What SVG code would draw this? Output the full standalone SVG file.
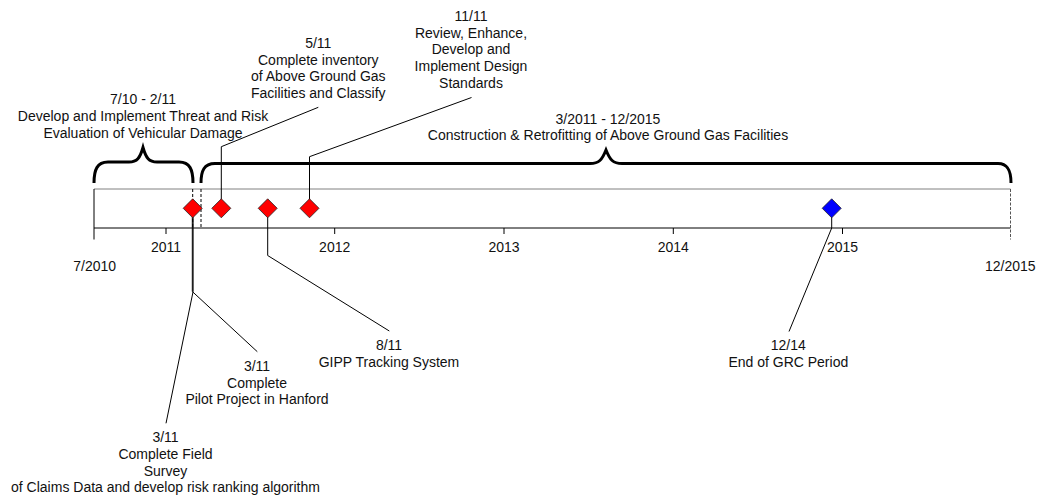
<svg xmlns="http://www.w3.org/2000/svg" width="1038" height="500" viewBox="0 0 1038 500">
<style>
text{font-family:"Liberation Sans",Arial,Helvetica,sans-serif;font-size:14px;fill:#111;text-anchor:middle}
.ln{stroke:#000;stroke-width:1;fill:none}
.brace{stroke:#000;stroke-width:3;fill:none}
.dash{stroke:#000;stroke-width:1;stroke-dasharray:3 2;fill:none}
.red{fill:#ff0000;stroke:#222;stroke-width:0.8}
.blue{fill:#0000ff;stroke:#222;stroke-width:0.8}
</style>
<defs>
<polygon id="dm" points="0,-9.5 9.5,0 0,9.5 -9.5,0"/>
</defs>
<rect width="1038" height="500" fill="#fff"/>
<g id="timeline">
<line x1="94" y1="189" x2="1010.5" y2="189" stroke="#808080" stroke-width="1"/>
<line x1="94" y1="228" x2="1010.5" y2="228" class="ln"/>
<line x1="94" y1="189" x2="94" y2="239.5" class="ln"/>
<line x1="1010.5" y1="189" x2="1010.5" y2="239.5" stroke="#555" stroke-width="1" stroke-dasharray="3 1.5"/>
<line x1="192.7" y1="189" x2="192.7" y2="228" class="dash"/>
<line x1="201" y1="189" x2="201" y2="228" class="dash"/>
<g class="ln">
<line x1="166" y1="228" x2="166" y2="234"/>
<line x1="334.7" y1="228" x2="334.7" y2="234"/>
<line x1="504" y1="228" x2="504" y2="234"/>
<line x1="673.3" y1="228" x2="673.3" y2="234"/>
<line x1="842.5" y1="228" x2="842.5" y2="234"/>
</g>
<text x="166" y="252">2011</text>
<text x="334.7" y="252">2012</text>
<text x="504" y="252">2013</text>
<text x="673.3" y="252">2014</text>
<text x="842.5" y="252">2015</text>
<text x="94.7" y="271">7/2010</text>
<text x="1010.3" y="271">12/2015</text>
</g>
<g id="connectors">
<polyline class="ln" points="221.3,199 221.3,146.7 318.3,107.3"/>
<polyline class="ln" points="309.5,199 309.5,156.7 471.5,97.5"/>
<polyline class="ln" points="192.3,217 192.3,291.5 257.3,351.7"/>
<polyline class="ln" points="193.1,217 193.1,291.5 166,423.3"/>
<polyline class="ln" points="267.7,217 267.7,255.5 389.3,331"/>
<polyline class="ln" points="831.7,217 831.7,228 789,331.5"/>
</g>
<g id="brace-threat">
<path class="brace" d="M94,183 C94,170 97,162 108,162 L129,162 C137,162 140,158 143,147.5 C146,158 149,162 157,162 L179,162 C190,162 193,170 193,183"/>
<text x="143" y="104">7/10 - 2/11</text>
<text x="143" y="121">Develop and Implement Threat and Risk</text>
<text x="143" y="137.5">Evaluation of Vehicular Damage</text>
</g>
<g id="brace-construction">
<path class="brace" d="M201,183 C201,171 204,163.5 215,163.5 L590,163.5 C599,163.5 602,160 606,150 C610,160 613,163.5 622,163.5 L998,163.5 C1008,163.5 1011,171 1011,183"/>
<text x="608" y="123.5">3/2011 - 12/2015</text>
<text x="608" y="140">Construction &amp; Retrofitting of Above Ground Gas Facilities</text>
</g>
<g id="m-field-survey">
<use href="#dm" class="red" x="192.7" y="208.3"/>
<text x="165.5" y="442.3">3/11</text>
<text x="165.5" y="459">Complete Field</text>
<text x="165.5" y="475.7">Survey</text>
<text x="165.5" y="492.4">of Claims Data and develop risk ranking algorithm</text>
</g>
<g id="m-pilot">
<text x="257" y="371">3/11</text>
<text x="257" y="387.7">Complete</text>
<text x="257" y="404.4">Pilot Project in Hanford</text>
</g>
<g id="m-inventory">
<use href="#dm" class="red" x="221.3" y="208.3"/>
<text x="318.3" y="48">5/11</text>
<text x="318.3" y="64.7">Complete inventory</text>
<text x="318.3" y="81.4">of Above Ground Gas</text>
<text x="318.3" y="98">Facilities and Classify</text>
</g>
<g id="m-gipp">
<use href="#dm" class="red" x="267.7" y="208.3"/>
<text x="389" y="350">8/11</text>
<text x="389" y="366.7">GIPP Tracking System</text>
</g>
<g id="m-standards">
<use href="#dm" class="red" x="309.5" y="208.3"/>
<text x="471" y="21">11/11</text>
<text x="471" y="37.7">Review, Enhance,</text>
<text x="471" y="54.4">Develop and</text>
<text x="471" y="71">Implement Design</text>
<text x="471" y="87.7">Standards</text>
</g>
<g id="m-grc">
<use href="#dm" class="blue" x="831.7" y="208.3"/>
<text x="788.3" y="350">12/14</text>
<text x="788.3" y="366.7">End of GRC Period</text>
</g>
</svg>
